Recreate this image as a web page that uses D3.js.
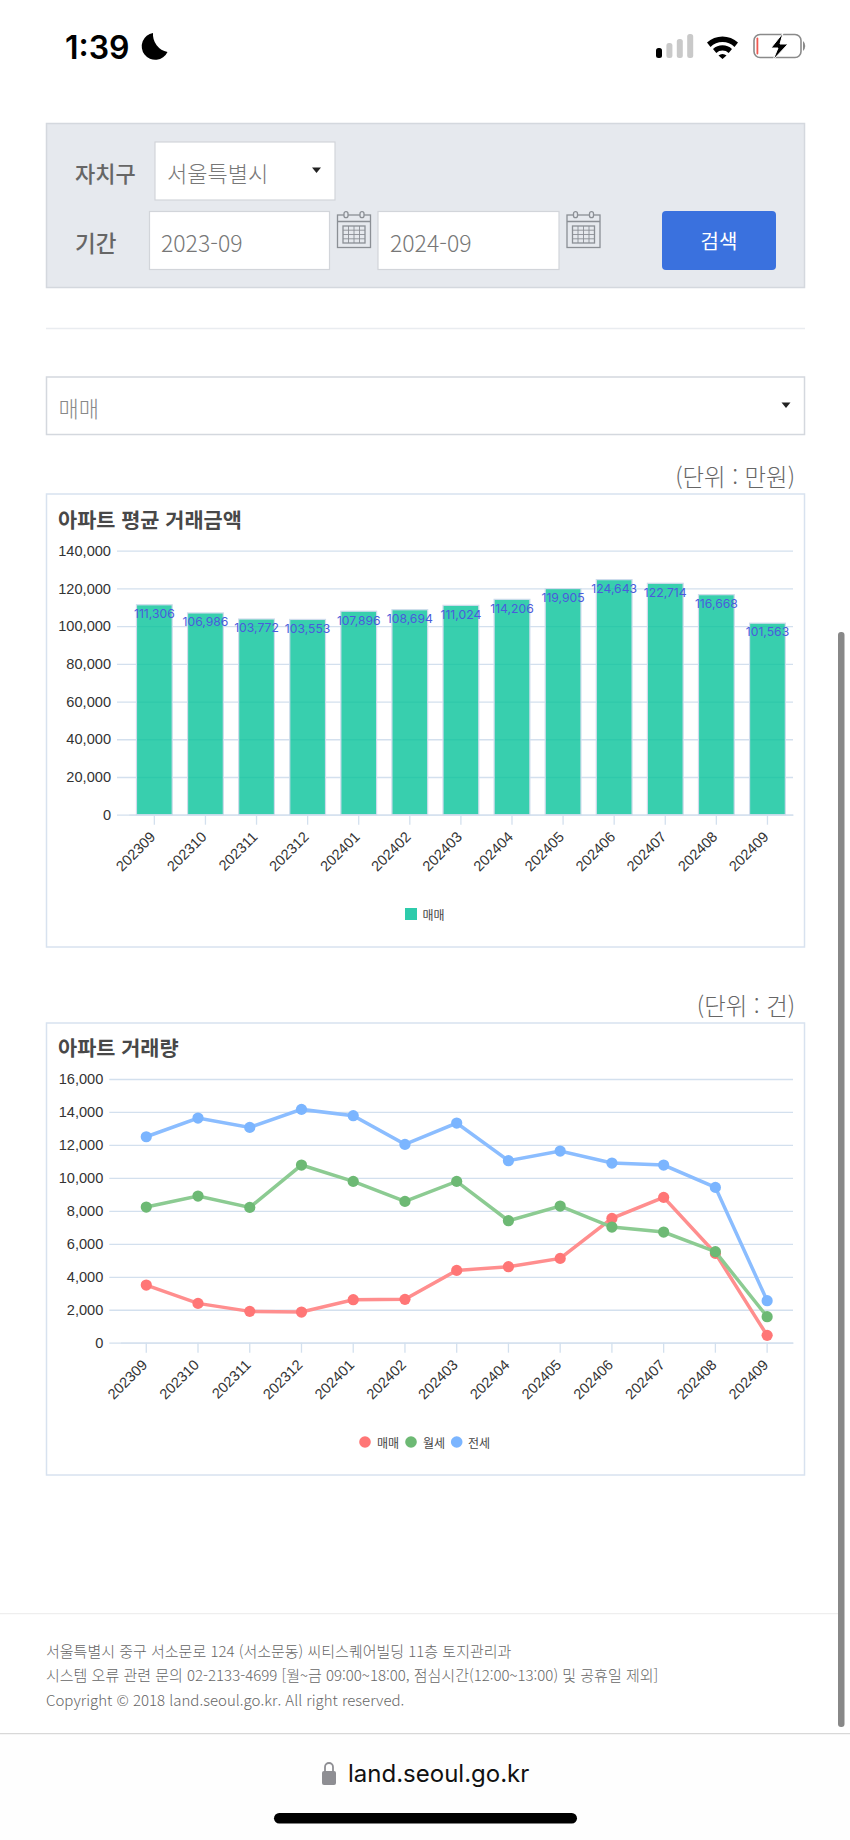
<!DOCTYPE html>
<html lang="ko"><head><meta charset="utf-8">
<script src="https://cdn.jsdelivr.net/npm/d3@7"></script>
<style>
html,body{margin:0;padding:0;background:#fff;overflow:hidden}
svg{display:block}
text{font-family:"Noto Sans CJK KR","Noto Sans",sans-serif}
.tick text{font-family:"Liberation Sans",Arial,sans-serif;font-size:14.6px;fill:#333}
</style></head><body><div id="chart"></div>
<script>
const months = ["202309","202310","202311","202312","202401","202402","202403","202404","202405","202406","202407","202408","202409"];
const avgPrice = [111306,106986,103772,103553,107896,108694,111024,114206,119905,124643,122714,116668,101563];
const sale = [3498,2386,1901,1860,2609,2629,4388,4610,5116,7542,8816,5419,445];
const monthly = [8230,8898,8210,10778,9788,8574,9788,7401,8291,7017,6714,5520,1577];
const jeonse = [12497,13630,13063,14156,13772,12032,13327,11042,11628,10900,10778,9424,2548];
const priceTicks = [0,20000,40000,60000,80000,100000,120000,140000];
const volumeTicks = [0,2000,4000,6000,8000,10000,12000,14000,16000];
const fmt = d3.format(",");
const GRID = "#d3e0ee";

const svg = d3.select("#chart").append("svg").attr("width",850).attr("height",1840);
svg.append("rect").attr("width",850).attr("height",1840).attr("fill","#fff");

function txt(s,x,y,size,fill,weight,anchor,family){
  const t=svg.append("text").attr("x",x).attr("y",y).attr("font-size",size).attr("fill",fill)
    .attr("font-weight",weight||400).attr("text-anchor",anchor||"start").attr("dominant-baseline","central").text(s);
  if(family) t.style("font-family",family);
  return t;
}
function box(x,y,w,h,fill,stroke,sw,r){
  return svg.append("rect").attr("x",x).attr("y",y).attr("width",w).attr("height",h).attr("fill",fill)
    .attr("stroke",stroke||"none").attr("stroke-width",sw||1).attr("rx",r||0);
}
function caret(x,y){svg.append("path").attr("d",`M${x-4.5},${y-2.5}H${x+4.5}L${x},${y+3}Z`).attr("fill","#222");}
function calendar(x,y){
  const g=svg.append("g").attr("transform",`translate(${x},${y})`).attr("fill","none").attr("stroke","#8b8f95").attr("stroke-width",1.3);
  g.append("rect").attr("x",.5).attr("y",4).attr("width",33).attr("height",32.5).attr("fill","#e6e9ee");
  g.append("path").attr("d","M.5,10.5H33.5");
  g.append("rect").attr("x",7).attr("y",.7).attr("width",4).attr("height",6).attr("rx",2).attr("fill","#e6e9ee");
  g.append("rect").attr("x",23).attr("y",.7).attr("width",4).attr("height",6).attr("rx",2).attr("fill","#e6e9ee");
  g.append("rect").attr("x",6).attr("y",15).attr("width",22).attr("height",17);
  g.append("path").attr("stroke-width",.9).attr("d","M11.5,15V32M17,15V32M22.5,15V32M6,19.2H28M6,23.5H28M6,27.8H28");
}

/* status bar */
txt("1:39",65,47,32,"#000",600,"start","Inter, sans-serif");
svg.append("path").attr("d","M153,33A13.5,13.5 0 1 0 167.5,52A18,18 0 0 1 153,33Z").attr("fill","#000");
[["#000",48],["#c9c9c9",43],["#c9c9c9",39],["#c9c9c9",34]].forEach((b,i)=>{
  box(656+i*10.4,b[1],6,58-b[1],b[0],null,0,2.5);
});
svg.append("path").attr("d","M707,42.5A23,23 0 0 1 738,42.5L734.5,47A17,17 0 0 0 710.5,47Z M713,49A14,14 0 0 1 732,49L728.7,53A9,9 0 0 0 716.3,53Z M718.5,55.5A6,6 0 0 1 726.5,55.5L722.5,59Z").attr("fill","#000");
box(754,34.5,47,23,"#fff","#8a8a8a",1.6,6);
box(756.5,37.5,1.8,17,"#f05a52",null,0,1);
svg.append("path").attr("d","M803,41V51A5,6 0 0 0 803,41Z").attr("fill","#8a8a8a");
svg.append("path").attr("d","M783,33L771,48H778L773,60L788,44H780Z").attr("fill","#000").attr("stroke","#fff").attr("stroke-width",1);

/* search form */
box(46.5,123.5,758,164,"#e6e9ee","#d4d8de",1.5);
txt("자치구",75,171.5,22,"#666",500);
box(155,142,180,58,"#fff","#d2d5da",1.2);
txt("서울특별시",167,171.5,22,"#777",300);
caret(316.5,170);
txt("기간",75,241.5,22.5,"#666",500);
box(149.5,211.5,180,58,"#fff","#d2d5da",1.2);
txt("2023-09",161,242,23,"#777",300);
calendar(337,211);
box(378,211.5,181,58,"#fff","#d2d5da",1.2);
txt("2024-09",390,242,23,"#777",300);
calendar(566.5,211);
box(662,211,114,59,"#3a71de",null,0,4);
txt("검색",719,240.5,20,"#fff",400,"middle");
svg.append("path").attr("d","M46,328.5H805").attr("stroke","#e9ecf0").attr("stroke-width",1.5);
box(46.5,377,758,57.5,"#fff","#d4d8de",1.5);
txt("매매",58.5,406.5,22,"#888",300);
caret(786,405);

/* shared axes */
function frame(top,bottom){ box(46.5,top,758,bottom-top,"#fff","#d8e2ef",1.5); }
function axes(x,y,ticks,leftX){
  const right=x.range()[1], left=x.range()[0];
  const ya=svg.append("g").attr("transform",`translate(${left},0)`)
    .call(d3.axisLeft(y).tickValues(ticks).tickFormat(fmt).tickSizeOuter(0).tickSizeInner(left-leftX).tickPadding(6));
  ya.select(".domain").remove();
  ya.selectAll(".tick line").attr("x2",-(left-leftX)).attr("x1",right-left).attr("stroke",GRID).attr("stroke-width",1.3);
  const xa=svg.append("g").attr("transform",`translate(0,${y(0)})`)
    .call(d3.axisBottom(x).tickSizeOuter(0).tickSizeInner(10).tickPadding(4));
  xa.select(".domain").attr("stroke",GRID).attr("stroke-width",1.3);
  xa.selectAll(".tick line").attr("stroke",GRID).attr("stroke-width",1.3);
  xa.selectAll(".tick text").attr("text-anchor","end").attr("y",0).attr("dy",0).attr("transform","translate(2,23) rotate(-45)");
}

/* chart 1 */
txt("(단위 : 만원)",795,476,23.4,"#666",300,"end");
frame(494,947);
txt("아파트 평균 거래금액",58,519,20.8,"#484848",700);
const x1=d3.scaleBand().domain(months).range([128.8,793]).paddingInner(0.3).paddingOuter(0.15);
const y1=d3.scaleLinear().domain([0,140000]).range([814.7,550.7]);
axes(x1,y1,priceTicks,117);
svg.append("g").selectAll("rect").data(avgPrice).join("rect")
  .attr("x",(d,i)=>x1(months[i])).attr("width",x1.bandwidth())
  .attr("y",d=>y1(d)).attr("height",d=>y1(0)-y1(d))
  .attr("fill","#03c298").attr("fill-opacity",.79).attr("stroke","#cfdcec").attr("stroke-width",1.2);
svg.append("g").selectAll("text").data(avgPrice).join("text")
  .attr("x",(d,i)=>x1(months[i])+x1.bandwidth()/2).attr("y",d=>y1(d)+8.8)
  .attr("text-anchor","middle").attr("dominant-baseline","central")
  .attr("font-size",12.2).attr("fill","#4a5bdc").style("font-family","Inter, sans-serif").text(fmt);
box(405,908,12,12,"#2ecbab");
txt("매매",422.5,914,12,"#444",400);

/* chart 2 */
txt("(단위 : 건)",795,1005,23.4,"#666",300,"end");
frame(1023,1475);
txt("아파트 거래량",58,1047,20.8,"#484848",700);
const x2=d3.scaleBand().domain(months).range([120.4,793]).padding(0);
const y2=d3.scaleLinear().domain([0,16000]).range([1342.7,1079]);
axes(x2,y2,volumeTicks,109.3);
const series=[
  {name:"매매",values:sale,line:"#ff8e8e",dot:"#ff7676",lx:365,tx:377},
  {name:"월세",values:monthly,line:"#8ccb92",dot:"#6db974",lx:411,tx:423},
  {name:"전세",values:jeonse,line:"#8bbdff",dot:"#7bb5ff",lx:456.7,tx:468}
];
const cx=i=>x2(months[i])+x2.bandwidth()/2;
const line=d3.line().x((d,i)=>cx(i)).y(d=>y2(d));
series.forEach(s=>{
  svg.append("path").attr("d",line(s.values)).attr("fill","none").attr("stroke",s.line).attr("stroke-width",3.5);
  svg.append("g").selectAll("circle").data(s.values).join("circle")
    .attr("cx",(d,i)=>cx(i)).attr("cy",d=>y2(d)).attr("r",5.6).attr("fill",s.dot);
  svg.append("circle").attr("cx",s.lx).attr("cy",1442).attr("r",5.8).attr("fill",s.dot);
  txt(s.name,s.tx,1442,12,"#444",400);
});

/* footer */
svg.append("path").attr("d","M0,1613.7H838").attr("stroke","#eeeeee").attr("stroke-width",1.3);
txt("서울특별시 중구 서소문로 124 (서소문동) 씨티스퀘어빌딩 11층 토지관리과",46,1650,15,"#666",300);
txt("시스템 오류 관련 문의 02-2133-4699 [월~금 09:00~18:00, 점심시간(12:00~13:00) 및 공휴일 제외]",46,1674.5,15,"#666",300);
txt("Copyright © 2018 land.seoul.go.kr. All right reserved.",46,1699,15,"#666",300);
box(838,632,6.5,1095,"#888",null,0,3);
svg.append("rect").attr("y",1734).attr("width",850).attr("height",106).attr("fill","#fefefe");
svg.append("path").attr("d","M0,1733.7H850").attr("stroke","#cfcfcf").attr("stroke-width",1);
box(322,1771,14,14,"#8e8e93",null,0,2);
svg.append("path").attr("d","M325,1772V1767A4,4 0 0 1 333,1767V1772").attr("fill","none").attr("stroke","#8e8e93").attr("stroke-width",1.8);
txt("land.seoul.go.kr",348,1773.5,24,"#111",400,"start","Inter, sans-serif");
box(274,1813,303,10.5,"#000",null,0,5.2);
</script></body></html>
